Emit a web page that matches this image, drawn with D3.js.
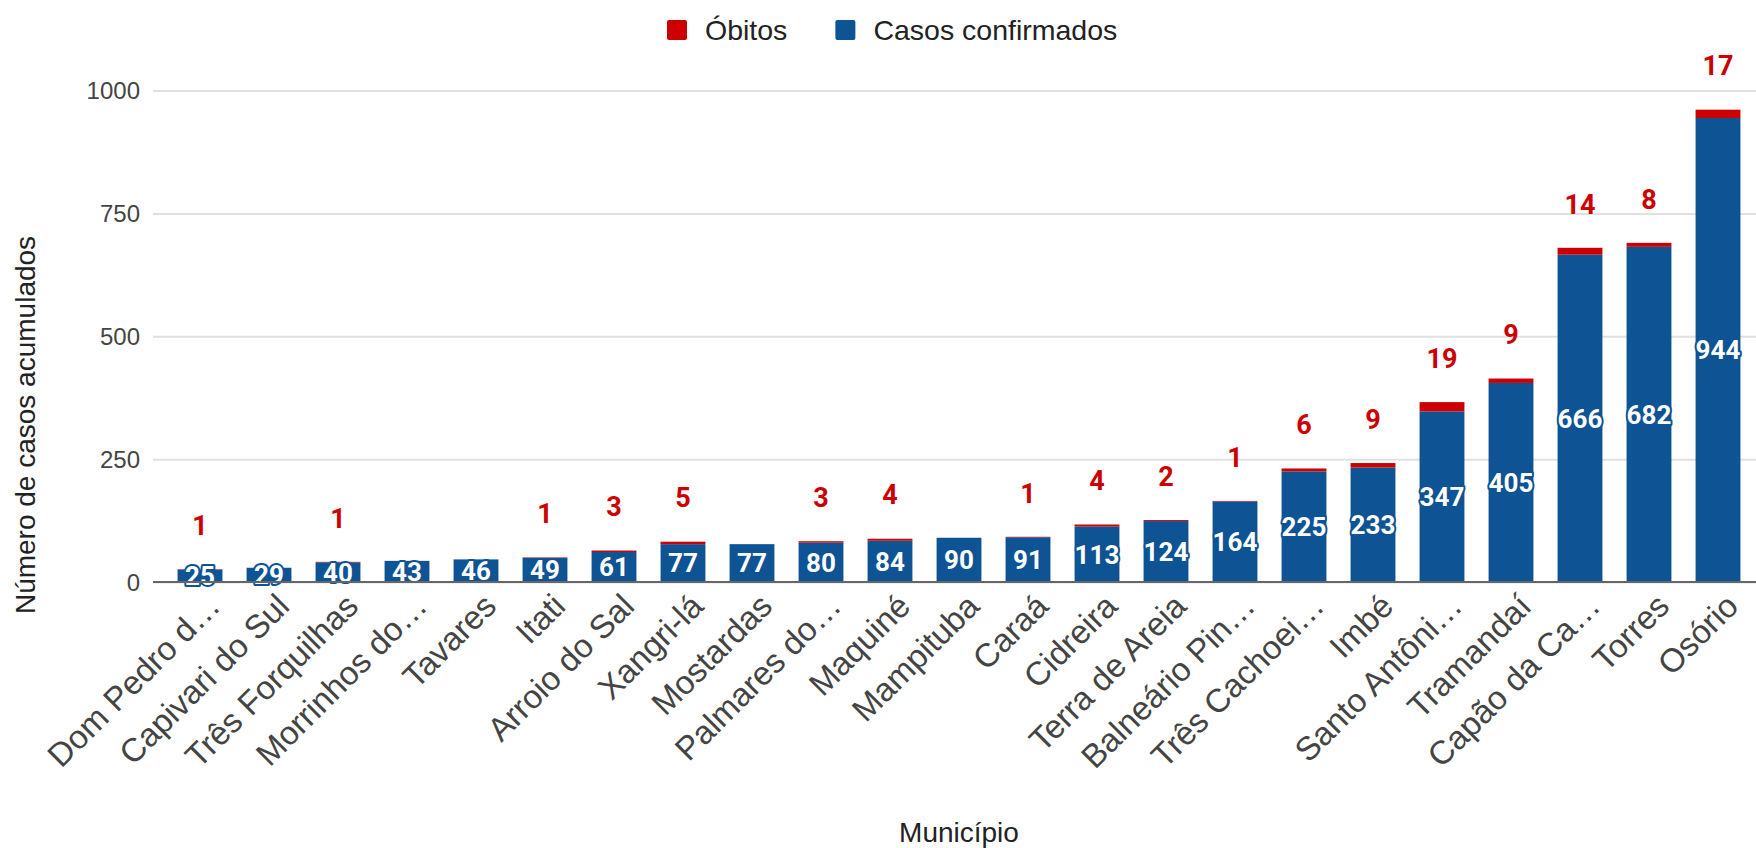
<!DOCTYPE html>
<html>
<head>
<meta charset="utf-8">
<script src="https://cdn.jsdelivr.net/npm/d3@7"></script>
<style>
  html, body { margin: 0; padding: 0; background: #fff; }
  svg text { font-family: "Liberation Sans", Arial, sans-serif; }
  svg text.value { font-family: Roboto, "Liberation Sans", Arial, sans-serif; }
</style>
</head>
<body>
<div id="graphic"></div>
<script>
// Municípios, ordered as in the chart
var municipios = [
  "Dom Pedro d…", "Capivari do Sul", "Três Forquilhas", "Morrinhos do…", "Tavares",
  "Itati", "Arroio do Sal", "Xangri-lá", "Mostardas", "Palmares do…", "Maquiné",
  "Mampituba", "Caraá", "Cidreira", "Terra de Areia", "Balneário Pin…",
  "Três Cachoei…", "Imbé", "Santo Antôni…", "Tramandaí", "Capão da Ca…", "Torres", "Osório"
];
var casos  = [25, 29, 40, 43, 46, 49, 61, 77, 77, 80, 84, 90, 91, 113, 124, 164, 225, 233, 347, 405, 666, 682, 944];
var obitos = [1, 0, 1, 0, 0, 1, 3, 5, 0, 3, 4, 0, 1, 4, 2, 1, 6, 9, 19, 9, 14, 8, 17];
var yTicks = [0, 250, 500, 750, 1000];

var seriesNames = ["Óbitos", "Casos confirmados"];

(function(document, d3) {
  var
  W      = 1756,
  H      = 848,
  blue   = "#0e5394",
  red    = "#cc0000",
  plot   = { left: 153, right: 1756, top: 90.5, bottom: 582 }
  ;

  var rows = municipios.map(function(m, i) {
    return { name: m, casos: casos[i], obitos: obitos[i] };
  });

  var svg = d3.select("#graphic").append("svg")
      .attr("width", W)
      .attr("height", H);

  var x = d3.scaleBand()
      .domain(municipios)
      .range([165.5, 1752.5])
      .paddingInner(0.35)
      .paddingOuter(0.175);

  var y = d3.scaleLinear()
      .domain([0, 1000])
      .range([plot.bottom, plot.top]);

  // Gridlines + tick labels
  var yAxis = d3.axisLeft(y)
      .tickValues(yTicks)
      .tickFormat(d3.format("d"))
      .tickSize(-(plot.right - plot.left))
      .tickPadding(13);

  var gy = svg.append("g")
      .attr("transform", "translate(" + plot.left + ",0)")
      .call(yAxis);

  gy.select(".domain").remove();
  gy.selectAll(".tick line")
      .attr("stroke", "#e0e0e0")
      .attr("stroke-width", 2);
  gy.selectAll(".tick text")
      .attr("fill", "#444")
      .attr("font-size", 24)
      .attr("dy", "0.35em");

  // Stacked bars: casos (bottom) then óbitos (top)
  var bars = svg.append("g").attr("class", "bars")
    .selectAll("g.bar-group")
      .data(rows)
    .enter().append("g")
      .attr("class", "bar-group")
      .attr("transform", function(d) { return "translate(" + x(d.name) + ",0)"; });

  bars.append("rect")
      .attr("x", 0)
      .attr("y", function(d) { return y(d.casos); })
      .attr("width", x.bandwidth())
      .attr("height", function(d) { return y(0) - y(d.casos); })
      .attr("fill", blue);

  bars.filter(function(d) { return d.obitos > 0; }).append("rect")
      .attr("x", 0)
      .attr("y", function(d) { return y(d.casos + d.obitos); })
      .attr("width", x.bandwidth())
      .attr("height", function(d) { return y(d.casos) - y(d.casos + d.obitos); })
      .attr("fill", red);

  // Baseline
  svg.append("line")
      .attr("x1", plot.left).attr("x2", plot.right)
      .attr("y1", y(0)).attr("y2", y(0))
      .attr("stroke", "#666")
      .attr("stroke-width", 2);

  // Case labels, centred in the blue segment, with a blue halo
  bars.append("text")
      .attr("class", "value")
      .attr("x", x.bandwidth() / 2)
      .attr("y", function(d) { return y(d.casos / 2); })
      .attr("dy", "0.36em")
      .attr("text-anchor", "middle")
      .attr("font-size", 26)
      .attr("font-weight", 700)
      .attr("fill", "#fff")
      .attr("stroke", blue)
      .attr("stroke-width", 4)
      .attr("stroke-linejoin", "round")
      .attr("paint-order", "stroke")
      .text(function(d) { return d.casos; });

  // Death labels above the stack
  bars.filter(function(d) { return d.obitos > 0; }).append("text")
      .attr("class", "value")
      .attr("x", x.bandwidth() / 2)
      .attr("y", function(d) { return y(d.casos + d.obitos) - 44; })
      .attr("dy", "0.36em")
      .attr("text-anchor", "middle")
      .attr("font-size", 27)
      .attr("font-weight", 700)
      .attr("fill", red)
      .text(function(d) { return d.obitos; });

  // Rotated category labels
  svg.append("g").attr("class", "x-labels")
    .selectAll("text")
      .data(municipios)
    .enter().append("text")
      .attr("transform", function(d) {
        var cx = x(d) + x.bandwidth() / 2 + 14;
        return "translate(" + cx + ",600) rotate(-45)";
      })
      .attr("dy", "0.35em")
      .attr("text-anchor", "end")
      .attr("font-size", 33)
      .attr("fill", "#444")
      .text(function(d) { return d; });

  // Axis titles
  svg.append("text")
      .attr("x", 959)
      .attr("y", 832)
      .attr("dy", "0.35em")
      .attr("text-anchor", "middle")
      .attr("font-size", 28)
      .attr("fill", "#222")
      .text("Município");

  svg.append("text")
      .attr("transform", "translate(25,425) rotate(-90)")
      .attr("dy", "0.35em")
      .attr("text-anchor", "middle")
      .attr("font-size", 28)
      .attr("fill", "#222")
      .text("Número de casos acumulados");

  // Legend
  var legend = svg.append("g").attr("class", "legend")
      .attr("transform", "translate(667,30)");

  var lx = 0;
  [red, blue].forEach(function(c, i) {
    var item = legend.append("g").attr("transform", "translate(" + lx + ",0)");
    item.append("rect")
        .attr("x", 0).attr("y", -10)
        .attr("width", 20).attr("height", 20)
        .attr("rx", 2)
        .attr("fill", c);
    var t = item.append("text")
        .attr("x", 38)
        .attr("dy", "0.35em")
        .attr("font-size", 28.5)
        .attr("fill", "#222")
        .text(seriesNames[i]);
    lx += 38 + t.node().getComputedTextLength() + 48;
  });
})(document, d3);
</script>
</body>
</html>
